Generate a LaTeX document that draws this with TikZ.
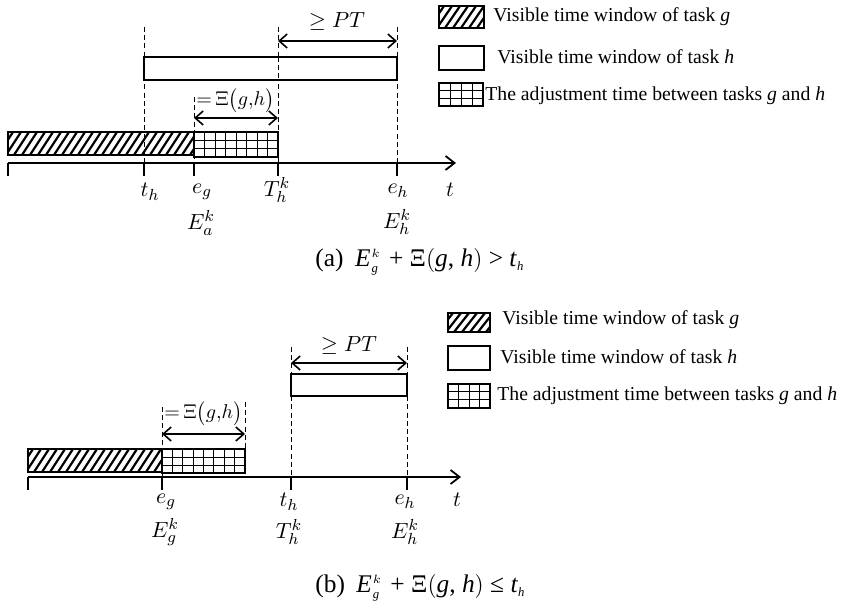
\documentclass[tikz,border=0pt]{standalone}
\usepackage{fontspec}
\setmainfont{Liberation Serif}
\usetikzlibrary{arrows.meta}
\tikzset{
  box/.style={draw, line width=0.75pt},
  hline/.style={line width=1.1pt},
  gline/.style={line width=0.5pt},
  dline/.style={line width=0.5pt, dash pattern=on 2.5pt off 1.6pt},
  axisline/.style={line width=0.9pt, -{Straight Barb[length=4.5pt,width=7pt,line width=0.9pt]}},
  tickline/.style={line width=1.2pt},
  dimline/.style={line width=0.8pt, {Straight Barb[length=4pt,width=7pt,line width=0.8pt]}-{Straight Barb[length=4pt,width=7pt,line width=0.8pt]}},
  lbl/.style={inner sep=0pt, font=\fontsize{11}{13}\selectfont},
  dimlbl/.style={inner sep=0pt, font=\fontsize{10.5}{12}\selectfont},
  xilbl/.style={inner sep=0pt, anchor=west, font=\fontsize{10}{12}\selectfont},
  legtxt/.style={inner sep=0pt, anchor=west, font=\fontsize{9.85}{12}\selectfont},
  captxt/.style={inner sep=0pt, anchor=west, font=\fontsize{12.7}{15}\selectfont}
}
% #1 x1, #2 y1 (top), #3 x2, #4 y2 (bottom), #5 number of stripes
\newcommand\myhatch[5]{%
  \begin{scope}
    \clip (#1,#2) rectangle (#3,#4);
    \foreach \k in {0,...,#5} \draw[hline] ({#1-18+8*\k},#4) -- ++(15,{#2-#4});
  \end{scope}
  \draw[box] (#1,#2) rectangle (#3,#4);}
% #1 x1, #2 y1, #3 x2, #4 y2, #5 columns, #6 rows
\newcommand\mygrid[6]{%
  \foreach \k in {1,...,\numexpr#5-1\relax} \draw[gline] ({#1+(#3-#1)*\k/#5},#2) -- ({#1+(#3-#1)*\k/#5},#4);
  \foreach \k in {1,...,\numexpr#6-1\relax} \draw[gline] (#1,{#2+(#4-#2)*\k/#6}) -- (#3,{#2+(#4-#2)*\k/#6});
  \draw[box] (#1,#2) rectangle (#3,#4);}
\newcommand\capformula[1]{\textit{E}\kern0.5pt$^{\scriptscriptstyle k}_{\scriptscriptstyle \mathit{g}}$\kern1pt\ + Ξ$\bigl($\textit{g}, \textit{h}$\bigr)$ #1 \textit{t}$_{\scriptscriptstyle \mathit{h}}$}
\begin{document}
\begin{tikzpicture}[x=0.5pt,y=-0.5pt]
\useasboundingbox (0,0) rectangle (851,614);

% ================= panel (a) =================
\coordinate (aS) at (8,163);
\coordinate (aE) at (456,163);
% dashed verticals
\draw[dline] (144,27) -- (144,163);
\draw[dline] (278,27) -- (278,163);
\draw[dline] (397,27) -- (397,163);
\draw[dline] (194,97) -- (194,163);
% bars
\draw[box, fill=white] (144,57) rectangle (397,80);
\draw[dline] (278,57) -- (278,80);
\myhatch{8}{132}{194}{155}{26}
\mygrid{194}{132}{278}{157}{8}{3}
% axis
\draw[axisline] (aS) -- (aE);
\foreach \xx in {8,144,194,278,397} \draw[tickline] (\xx,163) -- (\xx,176);
% dimensions
\coordinate (aP1) at (278,41); \coordinate (aP2) at (397,41);
\draw[dimline] (aP1) -- (aP2);
\node[dimlbl] (aPT) at (337,22) {$\geq PT$};
\coordinate (aX1) at (194,118); \coordinate (aX2) at (278,118);
\draw[dimline] (aX1) -- (aX2);
\node[xilbl] (aXi) at (196,101) {${=}\,\Xi\bigl(g{,}h\bigr)$};
% axis labels
\node[lbl] (ath) at (150,192) {$t_h$};
\node[lbl] (aeg) at (202,192) {$e_g$};
\node[lbl] (aEa) at (201,223) {$E_a^k$};
\node[lbl] (aTh) at (277,190) {$T_h^k$};
\node[lbl] (aeh) at (398,191) {$e_h$};
\node[lbl] (aEh) at (397,222) {$E_h^k$};
\node[lbl] (at) at (450,190) {$t$};
% legend
\myhatch{439}{6}{484}{28}{8}
\draw[box] (439,46) rectangle (484,70);
\mygrid{439}{83}{483}{106}{4}{3}
\node[legtxt] (aL1) at (493,17) {Visible time window of task \textit{g}};
\node[legtxt] (aL2) at (497,57) {Visible time window of task \textit{h}};
\node[legtxt] (aL3) at (485,96) {The adjustment time between tasks \textit{g} and \textit{h}};
% caption
\node[captxt] (acap) at (315,262) {(a)\hspace{0.45em}\capformula{>}};

% ================= panel (b) =================
\coordinate (bS) at (28,477);
\coordinate (bE) at (461,477);
\draw[dline] (162,407) -- (162,477);
\draw[dline] (245,402) -- (245,477);
\draw[dline] (291,347) -- (291,477);
\draw[dline] (407,347) -- (407,477);
\draw[box, fill=white] (291,374) rectangle (407,396);
\myhatch{28}{449}{162}{472}{20}
\mygrid{162}{449}{245}{473}{8}{3}
\draw[axisline] (bS) -- (bE);
\foreach \xx in {28,162,291,407} \draw[tickline] (\xx,477) -- (\xx,490);
\coordinate (bP1) at (291,363); \coordinate (bP2) at (407,363);
\draw[dimline] (bP1) -- (bP2);
\node[dimlbl] (bPT) at (349,346) {$\geq PT$};
\coordinate (bX1) at (162,434); \coordinate (bX2) at (245,434);
\draw[dimline] (bX1) -- (bX2);
\node[xilbl] (bXi) at (164,414) {${=}\,\Xi\bigl(g{,}h\bigr)$};
\node[lbl] (beg) at (166,502) {$e_g$};
\node[lbl] (bEg) at (165,532) {$E_g^k$};
\node[lbl] (bth) at (289,502) {$t_h$};
\node[lbl] (bTh) at (289,532) {$T_h^k$};
\node[lbl] (beh) at (405,502) {$e_h$};
\node[lbl] (bEh) at (405,532) {$E_h^k$};
\node[lbl] (bt) at (457,500) {$t$};
% legend
\myhatch{448}{313}{490}{332}{8}
\draw[box] (448,346) rectangle (490,370);
\mygrid{448}{384}{490}{408}{4}{3}
\node[legtxt] (bL1) at (502,320) {Visible time window of task \textit{g}};
\node[legtxt] (bL2) at (500,357) {Visible time window of task \textit{h}};
\node[legtxt] (bL3) at (497,396) {The adjustment time between tasks \textit{g} and \textit{h}};
% caption
\node[captxt] (bcap) at (315,588) {(b)\hspace{0.45em}\capformula{≤}};
\end{tikzpicture}
\end{document}
